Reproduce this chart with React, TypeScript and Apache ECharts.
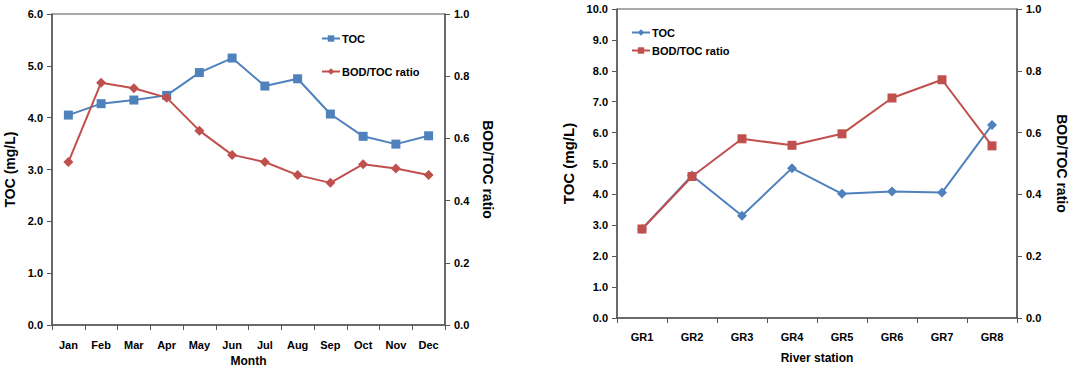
import React, { useEffect, useRef } from "react";
import * as echarts from "echarts";

const months = ["Jan", "Feb", "Mar", "Apr", "May", "Jun", "Jul", "Aug", "Sep", "Oct", "Nov", "Dec"];
const tocMonthly = [4.05, 4.27, 4.34, 4.43, 4.87, 5.15, 4.61, 4.75, 4.07, 3.64, 3.49, 3.65];
const ratioMonthly = [0.524, 0.779, 0.761, 0.731, 0.625, 0.547, 0.524, 0.482, 0.457, 0.517, 0.503, 0.482];

const stations = ["GR1", "GR2", "GR3", "GR4", "GR5", "GR6", "GR7", "GR8"];
const tocStation = [2.88, 4.61, 3.31, 4.85, 4.02, 4.09, 4.06, 6.25];
const ratioStation = [0.288, 0.458, 0.58, 0.559, 0.596, 0.712, 0.771, 0.557];

const BLUE = "#4F81BD";
const RED = "#C0504D";
const AXIS = "#555555";
const FONT = "Liberation Sans";

const labelStyle = { color: "#000", fontFamily: FONT, fontWeight: "bold" as const, fontSize: 11 };

function buildOption(cfg: any) {
  return {
    animation: false,
    backgroundColor: "#fff",
    legend: {
      orient: "vertical",
      left: cfg.legendLeft,
      top: cfg.legendTop,
      itemGap: cfg.legendGap,
      itemWidth: 18,
      itemHeight: 8,
      textStyle: { ...labelStyle, fontSize: 11, padding: [0, 0, 0, -3] },
      data: ["TOC", "BOD/TOC ratio"],
    },
    grid: {
      left: cfg.grid.left,
      top: cfg.grid.top,
      width: cfg.grid.width,
      height: cfg.grid.height,
      containLabel: false,
      outerBoundsMode: "none",
      show: true,
      borderColor: AXIS,
      borderWidth: 1,
    },
    xAxis: {
      type: "category",
      data: cfg.categories,
      boundaryGap: true,
      name: cfg.xName,
      nameLocation: "middle",
      nameGap: cfg.xNameGap,
      nameTextStyle: { ...labelStyle, fontSize: 12, lineHeight: 12 },
      axisLine: { lineStyle: { color: AXIS, width: 1.5 } },
      axisTick: { show: true, length: 5, lineStyle: { color: AXIS } },
      axisLabel: { ...labelStyle, margin: cfg.xLabelMargin },
      splitLine: { show: false },
    },
    yAxis: [
      {
        type: "value",
        min: 0,
        max: cfg.yMax,
        interval: 1,
        position: "left",
        name: "TOC (mg/L)",
        nameLocation: "middle",
        nameRotate: 90,
        nameGap: cfg.yNameGap,
        nameTextStyle: { ...labelStyle, fontSize: cfg.yNameSize },
        axisLine: { show: true, lineStyle: { color: AXIS, width: 1.5 } },
        axisTick: { show: true, length: 5, lineStyle: { color: AXIS } },
        axisLabel: { ...labelStyle, margin: 9, formatter: (v: number) => v.toFixed(1) },
        splitLine: { show: false },
      },
      {
        type: "value",
        min: 0,
        max: 1,
        interval: 0.2,
        position: "right",
        name: "BOD/TOC ratio",
        nameLocation: "middle",
        nameRotate: -90,
        nameGap: cfg.y2NameGap,
        nameTextStyle: { ...labelStyle, fontSize: 14 },
        axisLine: { show: true, lineStyle: { color: AXIS, width: 1.5 } },
        axisTick: { show: true, length: 5, lineStyle: { color: AXIS } },
        axisLabel: { ...labelStyle, margin: 9, formatter: (v: number) => v.toFixed(1) },
        splitLine: { show: false },
      },
    ],
    series: [
      {
        name: "TOC",
        type: "line",
        yAxisIndex: 0,
        data: cfg.toc,
        symbol: cfg.tocSymbol,
        symbolSize: cfg.tocSymbol === "rect" ? 9 : 10,
        lineStyle: { color: BLUE, width: 2 },
        itemStyle: { color: BLUE },
        z: 2,
      },
      {
        name: "BOD/TOC ratio",
        type: "line",
        yAxisIndex: 1,
        data: cfg.ratio,
        symbol: cfg.ratioSymbol,
        symbolSize: cfg.ratioSymbol === "rect" ? 9 : 10,
        lineStyle: { color: RED, width: 2 },
        itemStyle: { color: RED },
        z: 3,
      },
    ],
  };
}

function Chart({ cfg, style }: { cfg: any; style: React.CSSProperties }) {
  const ref = useRef<HTMLDivElement>(null);
  useEffect(() => {
    if (!ref.current) return;
    const chart = echarts.init(ref.current, undefined, { renderer: "svg" });
    chart.setOption(buildOption(cfg));
    return () => chart.dispose();
  }, []);
  return <div ref={ref} style={style} />;
}

export default function App() {
  const left = {
    categories: months,
    toc: tocMonthly,
    ratio: ratioMonthly,
    tocSymbol: "rect",
    ratioSymbol: "diamond",
    yMax: 6,
    grid: { left: 52, top: 14, width: 393, height: 311 },
    xName: "Month",
    xNameGap: 30,
    xLabelMargin: 14,
    yNameGap: 31,
    yNameSize: 14,
    y2NameGap: 36,
    legendLeft: 316,
    legendTop: 28,
    legendGap: 22,
  };
  const right = {
    categories: stations,
    toc: tocStation,
    ratio: ratioStation,
    tocSymbol: "diamond",
    ratioSymbol: "rect",
    yMax: 10,
    grid: { left: 77, top: 9, width: 400, height: 309 },
    xName: "River station",
    xNameGap: 34,
    xLabelMargin: 13,
    yNameGap: 33,
    yNameSize: 15,
    y2NameGap: 38,
    legendLeft: 86,
    legendTop: 22,
    legendGap: 7,
  };
  return (
    <div style={{ position: "absolute", left: 0, top: 0, width: 1083, height: 368, background: "#fff" }}>
      <Chart cfg={left} style={{ position: "absolute", left: 0, top: 0, width: 540, height: 368 }} />
      <Chart cfg={right} style={{ position: "absolute", left: 540, top: 0, width: 543, height: 368 }} />
    </div>
  );
}
